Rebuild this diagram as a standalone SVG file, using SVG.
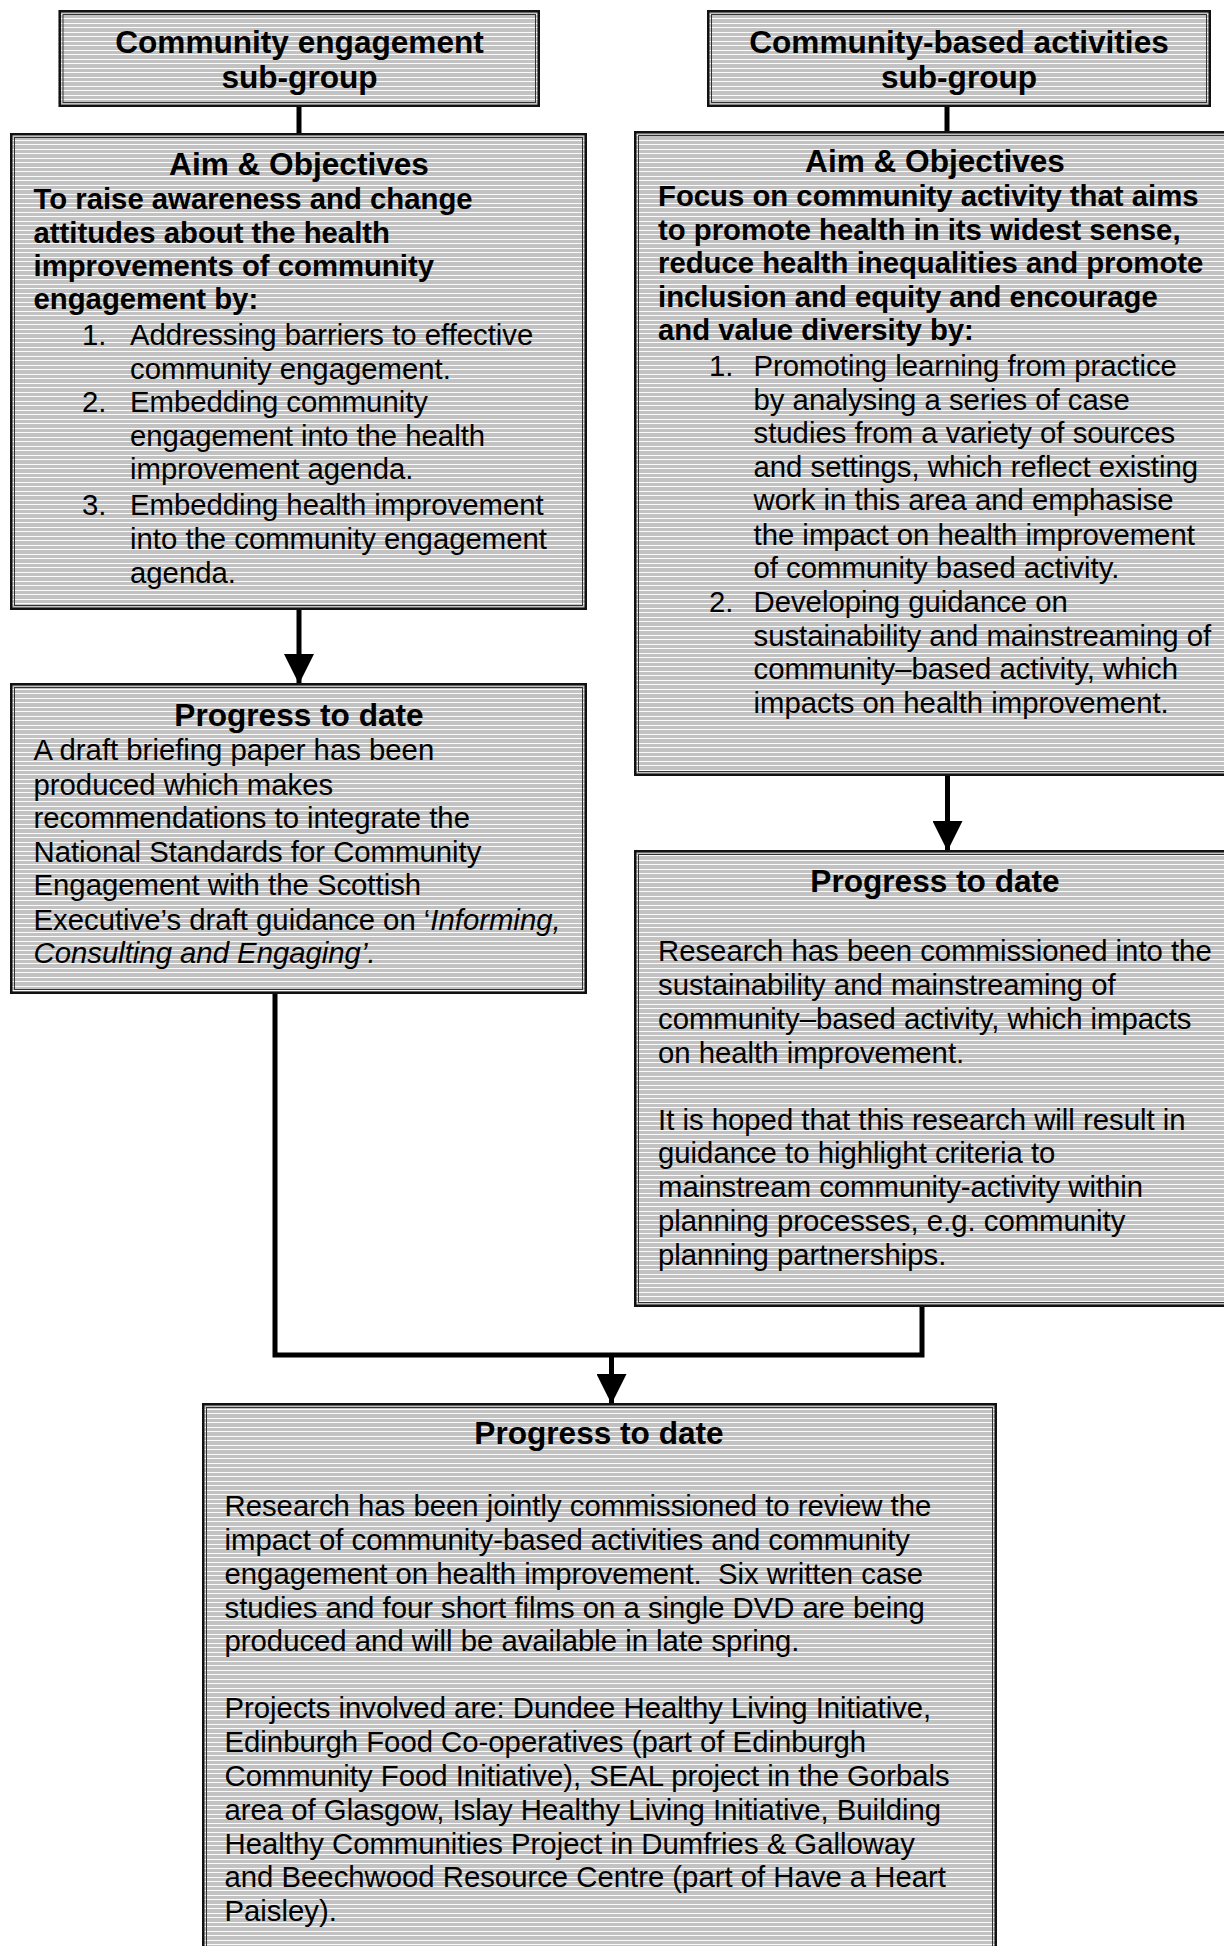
<svg xmlns="http://www.w3.org/2000/svg" width="1224" height="1946" viewBox="0 0 1224 1946">
<defs>
<pattern id="hatch" patternUnits="userSpaceOnUse" x="0" y="0" width="10" height="9">
<rect width="10" height="9" fill="#c2c2c2"/>
<rect y="0" width="10" height="1" fill="#fbfbfb"/>
<rect y="5" width="10" height="1" fill="#fbfbfb"/>
</pattern>
<marker id="arrow" markerUnits="userSpaceOnUse" markerWidth="30" markerHeight="30" viewBox="0 0 28 28" refX="28" refY="14" orient="auto">
<path d="M0,0 L28,14 L0,28 Z" fill="#000"/>
</marker>
<style>
.fill{fill:url(#hatch);stroke:none}
.outer{fill:none;stroke:#111;stroke-width:2.5}
.inner{fill:none;stroke:#333;stroke-width:1}
.conn{fill:none;stroke:#000;stroke-width:5}
text{font-family:"Liberation Sans",Arial,Helvetica,sans-serif;fill:#000}
.h{font-size:31.6px;font-weight:bold;text-anchor:middle}
.b{font-size:29.3px;font-weight:bold}
.r{font-size:29.3px}
.i{font-style:italic}
</style>
</defs>
<rect width="1224" height="1946" fill="#fff"/>

<g id="connectors">
<line class="conn" x1="299" y1="106" x2="299" y2="134"/>
<line class="conn" x1="947" y1="106" x2="947" y2="132"/>
<line class="conn" x1="299" y1="609" x2="299" y2="684" marker-end="url(#arrow)"/>
<line class="conn" x1="947.5" y1="775" x2="947.5" y2="851" marker-end="url(#arrow)"/>
<polyline class="conn" points="275,992 275,1355 922,1355 922,1305"/>
<line class="conn" x1="611.5" y1="1355" x2="611.5" y2="1404" marker-end="url(#arrow)"/>
</g>

<g id="ce-subgroup">
<rect class="fill" x="58.5" y="10" width="481.5" height="97"/>
<rect class="outer" x="59.75" y="11.25" width="479" height="94.5"/>
<rect class="inner" x="63" y="14.5" width="472.5" height="88"/>
<text class="h" x="299.5" y="53">Community engagement</text>
<text class="h" x="299.5" y="88">sub-group</text>
</g>

<g id="cba-subgroup">
<rect class="fill" x="707" y="10" width="504" height="97"/>
<rect class="outer" x="708.25" y="11.25" width="501.5" height="94.5"/>
<rect class="inner" x="711.5" y="14.5" width="495" height="88"/>
<text class="h" x="959" y="53">Community-based activities</text>
<text class="h" x="959" y="88">sub-group</text>
</g>

<g id="ce-aims">
<rect class="fill" x="10" y="133" width="577" height="477"/>
<rect class="outer" x="11.25" y="134.25" width="574.5" height="474.5"/>
<rect class="inner" x="14.5" y="137.5" width="568" height="468"/>
<text class="h" x="299" y="175">Aim &amp; Objectives</text>
<text class="b" x="33.5" y="209">To raise awareness and change</text>
<text class="b" x="33.5" y="242.5">attitudes about the health</text>
<text class="b" x="33.5" y="276">improvements of community</text>
<text class="b" x="33.5" y="309">engagement by:</text>
<text class="r" x="82" y="345">1.</text>
<text class="r" x="130" y="345">Addressing barriers to effective</text>
<text class="r" x="130" y="379">community engagement.</text>
<text class="r" x="82" y="412">2.</text>
<text class="r" x="130" y="412">Embedding community</text>
<text class="r" x="130" y="446">engagement into the health</text>
<text class="r" x="130" y="479">improvement agenda.</text>
<text class="r" x="82" y="515">3.</text>
<text class="r" x="130" y="515">Embedding health improvement</text>
<text class="r" x="130" y="549">into the community engagement</text>
<text class="r" x="130" y="583">agenda.</text>
</g>

<g id="cba-aims">
<rect class="fill" x="634" y="131" width="600" height="645"/>
<rect class="outer" x="635.25" y="132.25" width="597.5" height="642.5"/>
<rect class="inner" x="638.5" y="135.5" width="591" height="636"/>
<text class="h" x="935" y="172">Aim &amp; Objectives</text>
<text class="b" x="658" y="206">Focus on community activity that aims</text>
<text class="b" x="658" y="240">to promote health in its widest sense,</text>
<text class="b" x="658" y="273">reduce health inequalities and promote</text>
<text class="b" x="658" y="307">inclusion and equity and encourage</text>
<text class="b" x="658" y="340">and value diversity by:</text>
<text class="r" x="709" y="376">1.</text>
<text class="r" x="753.5" y="376">Promoting learning from practice</text>
<text class="r" x="753.5" y="410">by analysing a series of case</text>
<text class="r" x="753.5" y="443">studies from a variety of sources</text>
<text class="r" x="753.5" y="477">and settings, which reflect existing</text>
<text class="r" x="753.5" y="510">work in this area and emphasise</text>
<text class="r" x="753.5" y="545">the impact on health improvement</text>
<text class="r" x="753.5" y="578">of community based activity.</text>
<text class="r" x="709" y="612">2.</text>
<text class="r" x="753.5" y="612">Developing guidance on</text>
<text class="r" x="753.5" y="646">sustainability and mainstreaming of</text>
<text class="r" x="753.5" y="679">community–based activity, which</text>
<text class="r" x="753.5" y="713">impacts on health improvement.</text>
</g>

<g id="ce-progress">
<rect class="fill" x="10" y="683" width="577" height="311"/>
<rect class="outer" x="11.25" y="684.25" width="574.5" height="308.5"/>
<rect class="inner" x="14.5" y="687.5" width="568" height="302"/>
<text class="h" x="299" y="726">Progress to date</text>
<text class="r" x="33.5" y="760">A draft briefing paper has been</text>
<text class="r" x="33.5" y="794.5">produced which makes</text>
<text class="r" x="33.5" y="828">recommendations to integrate the</text>
<text class="r" x="33.5" y="862">National Standards for Community</text>
<text class="r" x="33.5" y="895">Engagement with the Scottish</text>
<text class="r" x="33.5" y="930">Executive’s draft guidance on ‘<tspan class="i">Informing,</tspan></text>
<text class="r i" x="33.5" y="963">Consulting and Engaging’.</text>
</g>

<g id="cba-progress">
<rect class="fill" x="634" y="850" width="600" height="457"/>
<rect class="outer" x="635.25" y="851.25" width="597.5" height="454.5"/>
<rect class="inner" x="638.5" y="854.5" width="591" height="448"/>
<text class="h" x="935" y="892">Progress to date</text>
<text class="r" x="658" y="961">Research has been commissioned into the</text>
<text class="r" x="658" y="994.5">sustainability and mainstreaming of</text>
<text class="r" x="658" y="1029">community–based activity, which impacts</text>
<text class="r" x="658" y="1062.5">on health improvement.</text>
<text class="r" x="658" y="1129.5">It is hoped that this research will result in</text>
<text class="r" x="658" y="1163">guidance to highlight criteria to</text>
<text class="r" x="658" y="1197">mainstream community-activity within</text>
<text class="r" x="658" y="1230.5">planning processes, e.g. community</text>
<text class="r" x="658" y="1265">planning partnerships.</text>
</g>

<g id="joint-progress">
<rect class="fill" x="202" y="1403" width="795" height="560"/>
<rect class="outer" x="203.25" y="1404.25" width="792.5" height="557.5"/>
<rect class="inner" x="206.5" y="1407.5" width="786" height="551"/>
<text class="h" x="599" y="1444">Progress to date</text>
<text class="r" x="224.5" y="1516">Research has been jointly commissioned to review the</text>
<text class="r" x="224.5" y="1549.5">impact of community-based activities and community</text>
<text class="r" x="224.5" y="1584" xml:space="preserve">engagement on health improvement.  Six written case</text>
<text class="r" x="224.5" y="1617.5">studies and four short films on a single DVD are being</text>
<text class="r" x="224.5" y="1651">produced and will be available in late spring.</text>
<text class="r" x="224.5" y="1718">Projects involved are: Dundee Healthy Living Initiative,</text>
<text class="r" x="224.5" y="1752">Edinburgh Food Co-operatives (part of Edinburgh</text>
<text class="r" x="224.5" y="1786">Community Food Initiative), SEAL project in the Gorbals</text>
<text class="r" x="224.5" y="1820">area of Glasgow, Islay Healthy Living Initiative, Building</text>
<text class="r" x="224.5" y="1853.5">Healthy Communities Project in Dumfries &amp; Galloway</text>
<text class="r" x="224.5" y="1887">and Beechwood Resource Centre (part of Have a Heart</text>
<text class="r" x="224.5" y="1921">Paisley).</text>
</g>
</svg>
